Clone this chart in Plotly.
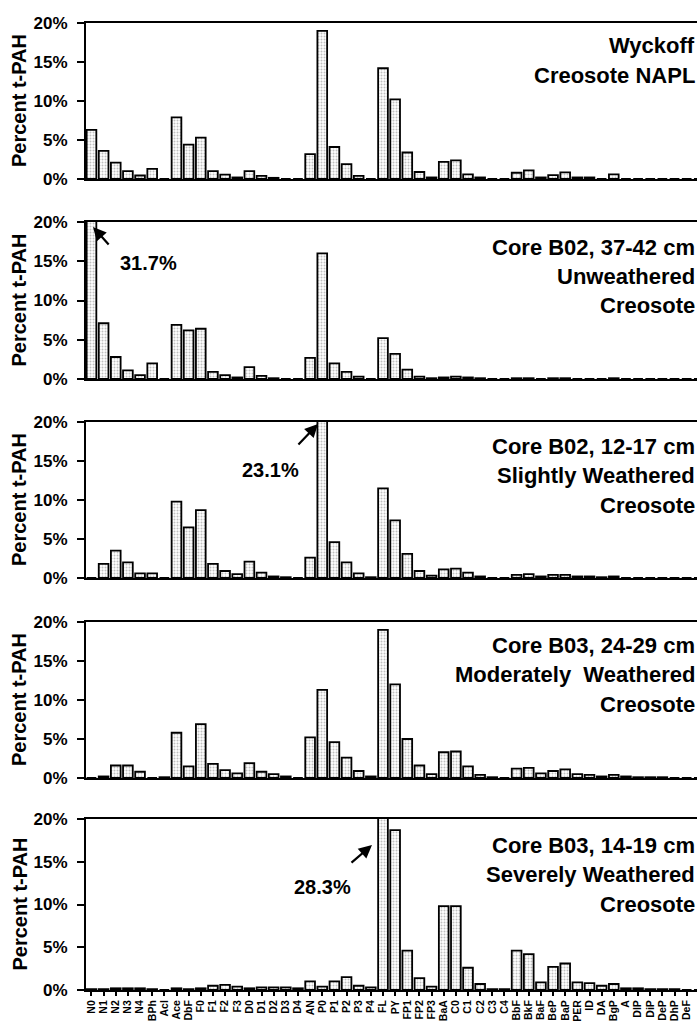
import plotly.graph_objects as go

categories = ["N0", "N1", "N2", "N3", "N4", "BPh", "Acl", "Ace", "DbF", "F0", "F1", "F2", "F3",
              "D0", "D1", "D2", "D3", "D4", "AN", "P0", "P1", "P2", "P3", "P4", "FL", "PY",
              "FP1", "FP2", "FP3", "BaA", "C0", "C1", "C2", "C3", "C4", "BbF", "BkF", "BaF",
              "BeP", "BaP", "PER", "ID", "DA", "BgP", "A", "DlP", "DiP", "DeP", "DhP", "DeF", "DkF"]

wyckoff_napl = [6.3, 3.6, 2.1, 1.0, 0.45, 1.3, 0.0, 7.9, 4.4, 5.3, 1.0, 0.55, 0.2,
                1.0, 0.4, 0.15, 0.0, 0.0, 3.2, 19.0, 4.1, 1.9, 0.4, 0.0, 14.2, 10.2,
                3.4, 0.9, 0.2, 2.2, 2.4, 0.6, 0.2, 0.0, 0.0, 0.8, 1.1, 0.2,
                0.5, 0.85, 0.2, 0.2, 0.0, 0.6, 0.0, 0.0, 0.0, 0.0, 0.0, 0.0, 0.0]

b02_37_42 = [31.7, 7.1, 2.8, 1.1, 0.5, 2.0, 0.0, 6.9, 6.2, 6.4, 0.9, 0.5, 0.2,
             1.5, 0.4, 0.1, 0.0, 0.0, 2.7, 16.0, 2.0, 0.9, 0.3, 0.0, 5.2, 3.2,
             1.2, 0.3, 0.1, 0.2, 0.3, 0.2, 0.1, 0.0, 0.0, 0.1, 0.1, 0.0,
             0.1, 0.1, 0.0, 0.0, 0.0, 0.1, 0.0, 0.0, 0.0, 0.0, 0.0, 0.0, 0.0]

b02_12_17 = [0.0, 1.8, 3.5, 2.0, 0.6, 0.6, 0.0, 9.8, 6.5, 8.7, 1.8, 0.9, 0.5,
             2.1, 0.7, 0.2, 0.1, 0.0, 2.6, 23.1, 4.6, 2.0, 0.6, 0.1, 11.5, 7.4,
             3.1, 0.9, 0.3, 1.1, 1.2, 0.7, 0.2, 0.0, 0.0, 0.4, 0.5, 0.2,
             0.4, 0.4, 0.2, 0.2, 0.1, 0.2, 0.0, 0.0, 0.0, 0.0, 0.0, 0.0, 0.0]

b03_24_29 = [0.0, 0.2, 1.6, 1.6, 0.8, 0.0, 0.1, 5.8, 1.5, 6.9, 1.8, 1.0, 0.6,
             1.9, 0.8, 0.5, 0.2, 0.0, 5.2, 11.3, 4.6, 2.6, 0.9, 0.2, 19.0, 12.0,
             5.0, 1.6, 0.5, 3.3, 3.4, 1.5, 0.4, 0.1, 0.0, 1.2, 1.3, 0.6,
             0.9, 1.1, 0.5, 0.4, 0.2, 0.4, 0.2, 0.1, 0.1, 0.1, 0.0, 0.0, 0.0]

b03_14_19 = [0.1, 0.1, 0.2, 0.2, 0.2, 0.1, 0.0, 0.2, 0.1, 0.2, 0.5, 0.6, 0.4,
             0.2, 0.3, 0.3, 0.3, 0.2, 1.0, 0.4, 1.0, 1.5, 0.5, 0.3, 28.3, 18.7,
             4.6, 1.4, 0.4, 9.8, 9.8, 2.6, 0.7, 0.1, 0.1, 4.6, 4.2, 0.9,
             2.7, 3.1, 0.9, 0.8, 0.5, 0.7, 0.2, 0.2, 0.1, 0.1, 0.1, 0.0, 0.0]

series = [wyckoff_napl, b02_37_42, b02_12_17, b03_24_29, b03_14_19]

panel_labels = [
    ["Wyckoff", "Creosote NAPL"],
    ["Core B02, 37-42 cm", "Unweathered", "Creosote"],
    ["Core B02, 12-17 cm", "Slightly Weathered", "Creosote"],
    ["Core B03, 24-29 cm", "Moderately  Weathered", "Creosote"],
    ["Core B03, 14-19 cm", "Severely Weathered", "Creosote"],
]

W, H = 697, 1023
L = 86
PW = W - L

# panel pixel extents (top, bottom)
panels_px = [(23, 179), (222, 379), (422, 578), (622, 778), (819, 990)]
label_first_y = [46, 247, 446, 645, 845]


def px_x(px):
    return (px - L) / PW


def px_y(py):
    return 1 - py / H


FONT = "Liberation Sans, Arial, sans-serif"

fig = go.Figure()
layout = dict(
    width=W, height=H, margin=dict(l=L, r=0, t=0, b=0),
    paper_bgcolor="white", plot_bgcolor="white", showlegend=False,
    font=dict(family=FONT, color="black"),
    bargap=0.2,
)

annotations = []
for i, vals in enumerate(series):
    n = i + 1
    xa = "x" if n == 1 else f"x{n}"
    ya = "y" if n == 1 else f"y{n}"
    fig.add_trace(go.Bar(
        x=categories, y=vals, xaxis=xa, yaxis=ya, width=0.8,
        marker=dict(color="white", line=dict(color="black", width=1.8),
                    pattern=dict(shape=".", fgcolor="#808080", size=3, solidity=0.35)),
    ))
    top, bot = panels_px[i]
    last = (n == 5)
    layout["xaxis" if n == 1 else f"xaxis{n}"] = dict(
        domain=[0, 1], anchor=ya, range=[-0.45, 49.85], type="category",
        tickmode="linear", tick0=0, dtick=1,
        showline=True, linecolor="black", linewidth=2, mirror=True,
        ticks="outside" if last else "", ticklen=4, tickcolor="black", tickwidth=1.5,
        showticklabels=last, tickangle=-90,
        tickfont=dict(family=FONT, size=10.5, weight="bold"),
        showgrid=False, zeroline=False, automargin=False, fixedrange=True,
    )
    layout["yaxis" if n == 1 else f"yaxis{n}"] = dict(
        domain=[px_y(bot), px_y(top)], anchor=xa, range=[0, 20],
        tickvals=[0, 5, 10, 15, 20], ticktext=["0%", "5%", "10%", "15%", "20%"],
        showline=True, linecolor="black", linewidth=2, ticks="outside", ticklen=7,
        tickwidth=2, tickcolor="black", ticklabelstandoff=6,
        tickfont=dict(family=FONT, size=17, weight="bold"),
        showgrid=False, zeroline=False, automargin=False, fixedrange=True,
    )
    # y title
    annotations.append(dict(
        xref="paper", yref="paper", x=px_x(19), y=px_y((top + bot) / 2),
        text="Percent t-PAH", textangle=-90, showarrow=False,
        font=dict(family=FONT, size=20, weight="bold"), xanchor="center", yanchor="middle",
    ))
    for j, line in enumerate(panel_labels[i]):
        annotations.append(dict(
            xref="paper", yref="paper", x=1.0, y=px_y(label_first_y[i] + j * 29.5),
            text=line, showarrow=False, xanchor="right", yanchor="middle",
            font=dict(family=FONT, size=22, weight="bold"),
        ))

# off-scale value callouts
callouts = [
    # (head_px, head_py, ax, ay, text, text_cx, text_cy)
    (93, 227, 17, 19, "31.7%", 148, 263),
    (318, 424, -21, 22, "23.1%", 270, 470),
    (372, 845, -22, 19, "28.3%", 322, 887),
]
for hx, hy, ax, ay, t, tx, ty in callouts:
    annotations.append(dict(
        xref="paper", yref="paper", x=px_x(hx), y=px_y(hy), ax=ax, ay=ay,
        text="", showarrow=True, arrowhead=2, arrowsize=1.2, arrowwidth=2.2, arrowcolor="black",
    ))
    annotations.append(dict(
        xref="paper", yref="paper", x=px_x(tx), y=px_y(ty), text=t, showarrow=False,
        font=dict(family=FONT, size=20, weight="bold"), xanchor="center", yanchor="middle",
    ))

layout["annotations"] = annotations
fig.update_layout(**layout)
fig.write_html(
    "out.html",
    config={"displayModeBar": False},
    post_script="document.body.style.margin='0';document.body.style.overflow='hidden';",
)
